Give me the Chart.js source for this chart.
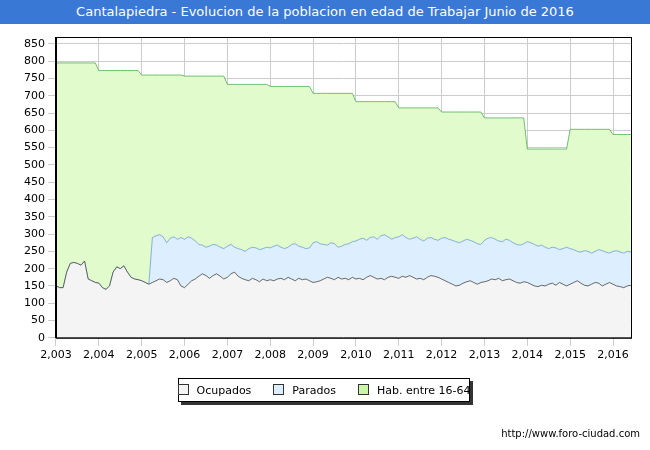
<!DOCTYPE html>
<html><head><meta charset="utf-8">
<script src="https://cdn.jsdelivr.net/npm/chart.js@4/dist/chart.umd.min.js"></script>
<style>
body{margin:0;width:650px;height:450px;background:#fff;font-family:"DejaVu Sans",sans-serif;position:relative;overflow:hidden}
#title{position:absolute;left:0;top:0;width:650px;height:24px;background:#3a78d6;color:#fff;font-size:13px;text-align:center;line-height:24px}
#wrap{position:absolute;left:0;top:0;width:650px;height:450px}
#legend{position:absolute;left:178px;top:378px;width:290px;height:22px;border:1px solid #000;box-shadow:3px 3px 0 #333;background:#fff;font-size:11px;display:flex;align-items:center;justify-content:center;gap:22px;white-space:nowrap}
#legend span{display:inline-block}
#legend span i{display:inline-block;width:9px;height:9px;border:1px solid #333;margin-right:8px;vertical-align:-1px}
#url{position:absolute;right:10px;top:428px;font-size:10px}
</style></head><body>
<div id="wrap"><canvas id="c" width="650" height="450"></canvas></div>
<div id="title">Cantalapiedra - Evolucion de la poblacion en edad de Trabajar Junio de 2016</div>
<div id="legend"><span><i style="background:#f4f4f4"></i>Ocupados</span><span><i style="background:#ddeeff"></i>Parados</span><span><i style="background:#ccf5a8"></i>Hab. entre 16-64</span></div>
<div id="url">http://www.foro-ciudad.com</div>
<script>
const years=[2003,2004,2005,2006,2007,2008,2009,2010,2011,2012,2013,2014,2015,2016];
const habitantes=[795,773,760,757,733,727,707,683,665,653,636,546,603,588];
const ocupados=[
150,145,145,190,215,218,215,210,222,170,165,160,
158,145,140,150,190,205,200,208,190,175,170,168,
165,160,155,160,165,170,168,160,165,172,168,150,
145,155,165,170,178,185,180,172,180,185,178,170,
175,185,190,178,172,168,165,172,168,162,170,165,
168,165,170,172,168,175,170,165,172,168,170,165,
160,162,165,170,175,172,168,175,170,172,168,175,
170,172,168,175,180,175,170,172,168,175,178,175,
172,178,175,180,175,170,172,168,175,180,178,175,
170,165,160,155,150,152,158,162,165,160,155,160,
162,165,170,168,172,165,168,170,165,160,158,162,
160,155,150,148,152,150,155,158,152,160,155,150,
155,160,165,158,152,150,155,160,158,150,155,160,
155,150,148,145,150,152];
const parados=[
150,145,145,190,215,218,215,210,222,170,165,160,
158,145,140,150,190,205,200,208,190,175,170,168,
165,160,155,290,295,298,292,275,288,292,285,290,
285,292,288,280,270,268,262,265,270,268,262,258,
265,270,262,258,255,250,258,262,260,255,258,262,
260,265,268,262,258,262,270,272,265,262,258,260,
275,278,272,270,268,275,272,262,265,270,272,278,
280,285,288,282,290,292,285,295,298,292,285,290,
292,298,290,285,288,292,285,280,288,290,285,282,
288,290,285,282,278,275,280,285,282,278,272,270,
282,288,290,285,280,278,285,282,275,270,268,272,
278,275,270,265,268,262,258,262,260,255,258,262,
258,255,250,248,252,250,245,250,255,252,248,245,
250,252,248,245,250,248];
const xs=ocupados.map((_,i)=>2003+i/12);
const pts=a=>a.map((v,i)=>({x:xs[i],y:v}));
const habPts=pts(ocupados.map((_,i)=>habitantes[Math.floor(i/12)]));
new Chart(document.getElementById('c'),{
  type:'line',
  data:{datasets:[
    {label:'Ocupados',data:pts(ocupados),borderColor:'#444',backgroundColor:'#f4f4f4',fill:'origin',borderWidth:0.8,pointRadius:0,tension:0},
    {label:'Parados',data:pts(parados),borderColor:'#6a9fd4',backgroundColor:'#ddeeff',fill:'-1',borderWidth:0.8,pointRadius:0,tension:0},
    {label:'Hab',data:habPts,borderColor:'#50b050',backgroundColor:'#e2fbcc',fill:'-1',borderWidth:0.8,pointRadius:0,tension:0}
  ]},
  options:{responsive:false,animation:false,
    layout:{padding:{top:37,right:19,bottom:85,left:21}},
    plugins:{legend:{display:false},tooltip:{enabled:false}},
    scales:{
      x:{type:'linear',min:2003,max:2016.42,border:{color:'#000'},
        afterBuildTicks:ax=>{ax.ticks=years.map(v=>({value:v}));},
        ticks:{autoSkip:false,maxRotation:0,color:'#000',font:{size:11,family:'DejaVu Sans'}},
        grid:{color:'#ccc'}},
      y:{min:0,max:870,border:{color:'#000'},
        afterBuildTicks:ax=>{ax.ticks=[];for(let v=0;v<=850;v+=50)ax.ticks.push({value:v});},
        ticks:{color:'#000',font:{size:11,family:'DejaVu Sans'}},
        grid:{color:'#ccc'}}
    }
  },
  plugins:[{id:'frame',afterDraw(ch){const a=ch.chartArea,c=ch.ctx;c.save();c.strokeStyle='#000';c.lineWidth=1;c.strokeRect(a.left+.5,a.top+.5,a.width,a.height);c.restore();}}]
});
</script>
</body></html>
